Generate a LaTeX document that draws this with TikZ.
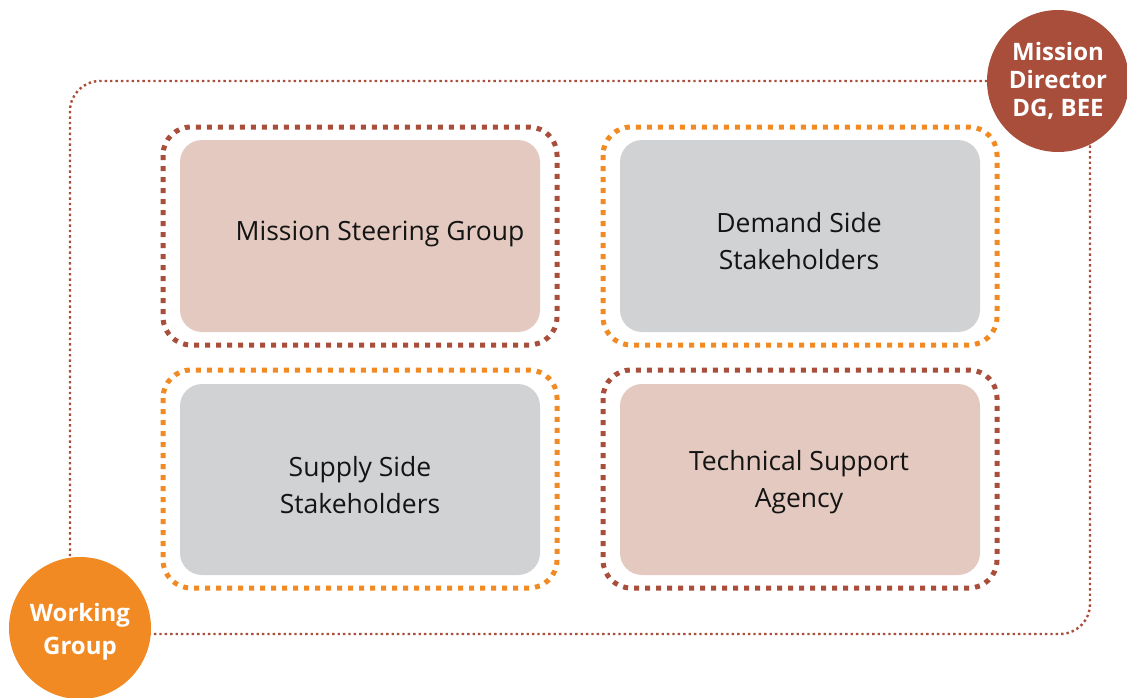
\documentclass[tikz,border=0pt]{standalone}
\usepackage{fontspec}
\setmainfont{Open Sans}
\definecolor{rust}{HTML}{A84E3B}
\definecolor{amber}{HTML}{F28A24}
\definecolor{blush}{HTML}{E3C9BF}
\definecolor{mist}{HTML}{D1D2D4}
\begin{document}
\begin{tikzpicture}[x=1pt,y=-1pt,
  frame/.style={draw=rust, line width=2.4pt, dash pattern=on 2.4pt off 3pt, rounded corners=30pt},
  ring/.style={line width=5pt, dash pattern=on 5pt off 6pt, rounded corners=28pt},
  card/.style={rounded corners=22pt, draw=none},
  label/.style={align=center, font=\fontsize{26.5}{37}\selectfont, text=black!92},
  badge/.style={circle, minimum size=142pt, inner sep=0pt, align=center, text=white,
    font=\fontsize{24}{28}\selectfont\bfseries}]
\useasboundingbox (0,0) rectangle (1127,697);
% dotted outer frame
\draw[frame] (70,81) rectangle (1090,634);
% four groups
\draw[ring, draw=rust] (163,127) rectangle (557,345);
\fill[card, fill=blush] (180,140) rectangle (540,332);
\draw[ring, draw=amber] (603,127) rectangle (997,345);
\fill[card, fill=mist] (620,140) rectangle (980,332);
\draw[ring, draw=amber] (163,370) rectangle (557,588);
\fill[card, fill=mist] (180,384) rectangle (540,575);
\draw[ring, draw=rust] (603,370) rectangle (997,588);
\fill[card, fill=blush] (620,384) rectangle (980,575);
\node[label] (msg) at (380,234) {Mission Steering Group};
\node[label] (dss) at (799,241) {Demand Side\\Stakeholders};
\node[label] (sss) at (360,485) {Supply Side\\Stakeholders};
\node[label] (tsa) at (799,482) {Technical Support\\Agency};
% badges
\node[badge, fill=rust] (md) at (1058,81) {Mission\\Director\\DG, BEE};
\node[badge, fill=amber] (wg) at (80,628) {};
\node[align=center, text=white, font=\fontsize{24}{33}\selectfont\bfseries] (wgtext) at (80,632) {Working\\Group};
\end{tikzpicture}
\end{document}
